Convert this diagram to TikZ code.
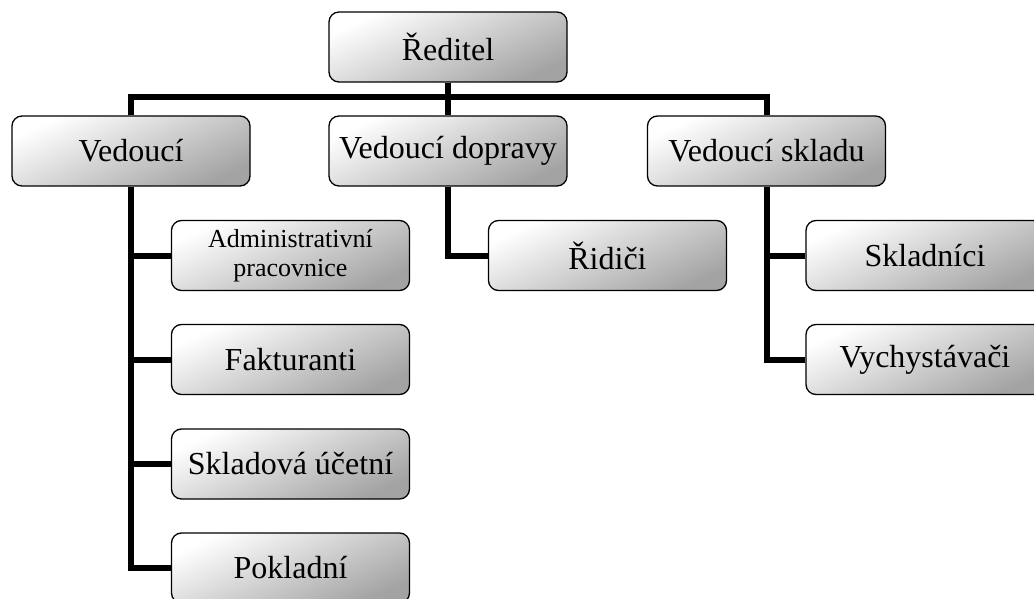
\documentclass[tikz,border=0pt]{standalone}
\usepackage{fontspec}
\setmainfont{Liberation Serif}
\tikzset{
  orgbox/.style={draw=black, line width=1.3pt, rounded corners=10pt,
    top color=white, bottom color=black!36, shading angle=25,
    minimum width=238pt, minimum height=70pt, inner sep=2pt,
    font=\fontsize{32}{36}\selectfont, align=center},
  smalltext/.style={font=\fontsize{26}{29}\selectfont},
  conn/.style={line width=6pt, draw=black}
}
\begin{document}
\begin{tikzpicture}[x=1pt,y=-1pt]
\clip (0,0) rectangle (1034,599);
\useasboundingbox (0,0) rectangle (1034,599);
% level 1
\node[orgbox] (red) at (448,47) {Ředitel};
% level 2
\node[orgbox] (v1) at (131,151) {Vedoucí};
\node[orgbox] (v2) at (448,151) {Vedoucí dopravy};
\node[orgbox] (v3) at (766.5,151) {Vedoucí skladu};
% children of v1
\node[orgbox, smalltext] (a1) at (290.5,255.5) {Administrativní\\pracovnice};
\node[orgbox] (a2) at (290.5,359.5) {Fakturanti};
\node[orgbox] (a3) at (290.5,464) {Skladová účetní};
\node[orgbox] (a4) at (290.5,568) {Pokladní};
% child of v2
\node[orgbox] (b1) at (607.5,255.5) {Řidiči};
% children of v3
\node[orgbox] (c1) at (925,255.5) {Skladníci};
\node[orgbox] (c2) at (925,359.5) {Vychystávači};
% connectors
\coordinate (bus) at (448,97);
\draw[conn] (red.south) -- (bus);
\draw[conn] (bus) -| (v1.north);
\draw[conn] (bus) -- (v2.north);
\draw[conn] (bus) -| (v3.north);
\draw[conn] (v1.south) |- (a1.west);
\draw[conn] (v1.south) |- (a2.west);
\draw[conn] (v1.south) |- (a3.west);
\draw[conn] (v1.south) |- (a4.west);
\draw[conn] (v2.south) |- (b1.west);
\draw[conn] (v3.south) |- (c1.west);
\draw[conn] (v3.south) |- (c2.west);
\end{tikzpicture}
\end{document}
